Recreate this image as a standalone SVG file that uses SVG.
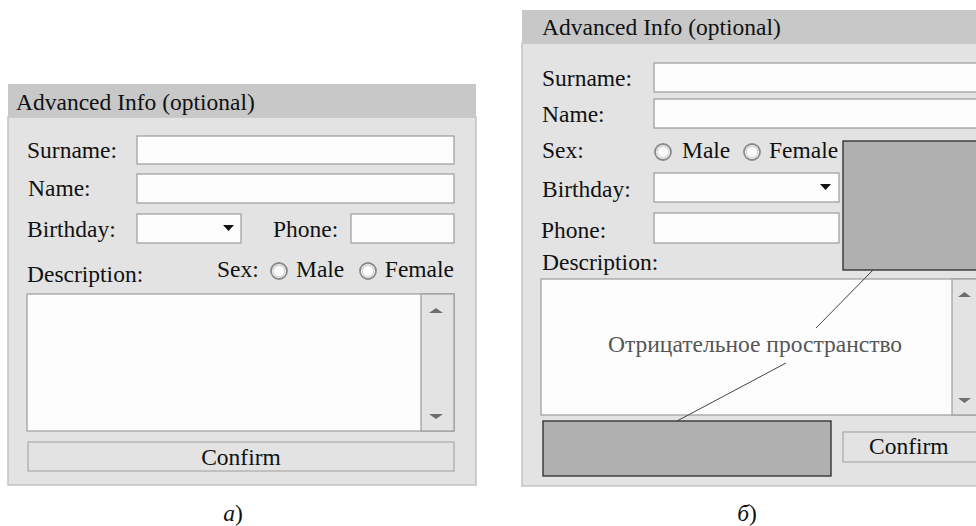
<svg xmlns="http://www.w3.org/2000/svg" width="976" height="526" viewBox="0 0 976 526">
<style>
text{font-family:"Liberation Serif","Times New Roman",serif;font-size:23.5px;fill:#111}
.hdr{fill:#c8c8c8}
.body{fill:#e3e3e3;stroke:#c2c2c2;stroke-width:1.5}
.inp{fill:#fdfdfd;stroke:#9c9c9c;stroke-width:1.2}
.btn{fill:#e3e3e3;stroke:#a8a8a8;stroke-width:1.2}
.scr{fill:#e3e3e3;stroke:#9c9c9c;stroke-width:1.2}
.neg{fill:#b0b0b0;stroke:#2a2a2a;stroke-width:1.3}
.radio{fill:#fdfdfd;stroke:#8a8a8a;stroke-width:1.8}
.radio2{fill:none;stroke:#d0d0d0;stroke-width:1.2}
.darr{fill:#111}
.sarr{fill:#6e6e6e}
.lead{stroke:#444;stroke-width:1;fill:none}
.note{fill:#555}
</style>
<rect width="976" height="526" fill="#fff"/>

<!-- Panel a -->
<g id="panelA">
  <g id="a-frame">
    <rect class="body" x="8" y="117" width="468" height="368"/>
    <rect class="hdr" x="8" y="84" width="468" height="33"/>
    <text x="16" y="110">Advanced Info (optional)</text>
  </g>
  <g id="a-surname">
    <text x="27" y="158">Surname:</text>
    <rect class="inp" x="137" y="136" width="317" height="28"/>
  </g>
  <g id="a-name">
    <text x="28" y="196">Name:</text>
    <rect class="inp" x="137" y="174" width="317" height="29"/>
  </g>
  <g id="a-birthday">
    <text x="27" y="237">Birthday:</text>
    <rect class="inp" x="137" y="214" width="104" height="29"/>
    <polygon class="darr" points="223,225 234,225 228.5,231"/>
  </g>
  <g id="a-phone">
    <text x="273" y="237">Phone:</text>
    <rect class="inp" x="351" y="214" width="103" height="29"/>
  </g>
  <g id="a-sex">
    <text x="217" y="277">Sex:</text>
    <circle class="radio" cx="279" cy="271" r="8"/>
    <circle class="radio2" cx="279" cy="271" r="5.8"/>
    <text x="296" y="277">Male</text>
    <circle class="radio" cx="368" cy="271" r="8"/>
    <circle class="radio2" cx="368" cy="271" r="5.8"/>
    <text x="454" y="277" text-anchor="end">Female</text>
  </g>
  <g id="a-description">
    <text x="27" y="282">Description:</text>
    <rect class="inp" x="27" y="294" width="427" height="137"/>
    <rect class="scr" x="421" y="294" width="33" height="137"/>
    <polygon class="sarr" points="429,313 443,313 436,308"/>
    <polygon class="sarr" points="429,414 443,414 436,419"/>
  </g>
  <g id="a-confirm">
    <rect class="btn" x="28" y="442" width="426" height="29"/>
    <text x="241" y="465" text-anchor="middle">Confirm</text>
  </g>
  <text id="a-label" x="233" y="521" text-anchor="middle"><tspan font-style="italic">а</tspan>)</text>
</g>

<!-- Panel b -->
<g id="panelB">
  <g id="b-frame">
    <rect class="body" x="522" y="43" width="470" height="443"/>
    <rect class="hdr" x="522" y="10" width="470" height="33"/>
    <text x="542" y="35">Advanced Info (optional)</text>
  </g>
  <g id="b-surname">
    <text x="542" y="86">Surname:</text>
    <rect class="inp" x="654" y="63" width="340" height="29"/>
  </g>
  <g id="b-name">
    <text x="542" y="122">Name:</text>
    <rect class="inp" x="654" y="99" width="340" height="29"/>
  </g>
  <g id="b-sex">
    <text x="542" y="158">Sex:</text>
    <circle class="radio" cx="663" cy="152" r="8"/>
    <circle class="radio2" cx="663" cy="152" r="5.8"/>
    <text x="682" y="158">Male</text>
    <circle class="radio" cx="752" cy="152" r="8"/>
    <circle class="radio2" cx="752" cy="152" r="5.8"/>
    <text x="769" y="158">Female</text>
  </g>
  <g id="b-birthday">
    <text x="542" y="197">Birthday:</text>
    <rect class="inp" x="654" y="173" width="185" height="29"/>
    <polygon class="darr" points="820,184 831,184 825.5,190"/>
  </g>
  <g id="b-phone">
    <text x="541" y="238">Phone:</text>
    <rect class="inp" x="654" y="213" width="185" height="30"/>
  </g>
  <g id="b-description">
    <text x="542" y="270">Description:</text>
    <rect class="inp" x="541" y="279" width="453" height="136"/>
    <rect class="scr" x="952" y="279" width="42" height="136"/>
    <polygon class="sarr" points="958,297 971,297 964.5,292"/>
    <polygon class="sarr" points="958,398 971,398 964.5,403"/>
  </g>
  <g id="b-confirm">
    <rect class="btn" x="843" y="432" width="151" height="30"/>
    <text x="869" y="454">Confirm</text>
  </g>
  <g id="b-neg1">
    <rect class="neg" x="843" y="141" width="151" height="129"/>
  </g>
  <g id="b-neg2">
    <rect class="neg" x="543" y="421" width="288" height="55"/>
  </g>
  <g id="b-note">
    <text class="note" x="608" y="352">Отрицательное пространство</text>
  </g>
  <g id="connectors">
    <line class="lead" x1="873" y1="270" x2="816" y2="328"/>
    <line class="lead" x1="786" y1="363" x2="677" y2="421"/>
  </g>
  <text id="b-label" x="747" y="521" text-anchor="middle"><tspan font-style="italic">б</tspan>)</text>
</g>
</svg>
